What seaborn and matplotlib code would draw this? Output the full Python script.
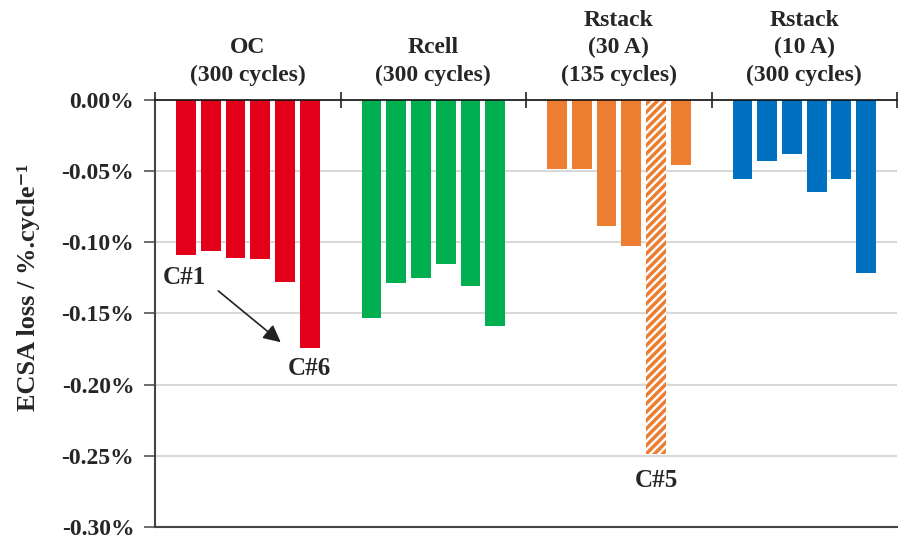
import numpy as np
import pandas as pd
import seaborn as sns
import matplotlib.pyplot as plt

# ECSA loss rate per cell (%/cycle)
groups = ["OC\n(300 cycles)", "Rcell\n(300 cycles)",
          "Rstack\n(30 A)\n(135 cycles)", "Rstack\n(10 A)\n(300 cycles)"]
cells = ["C#1", "C#2", "C#3", "C#4", "C#5", "C#6"]
oc = [-0.109, -0.106, -0.111, -0.112, -0.128, -0.174]
rcell = [-0.153, -0.129, -0.125, -0.115, -0.131, -0.159]
rstack_30a = [-0.049, -0.049, -0.089, -0.103, -0.249, -0.046]
rstack_10a = [-0.056, -0.043, -0.038, -0.065, -0.056, -0.122]
group_colors = ["#E2001A", "#00B050", "#ED7D31", "#0070C0"]

values = [oc, rcell, rstack_30a, rstack_10a]
df = pd.DataFrame({
    "group": np.repeat(groups, len(cells)),
    "cell": cells * len(groups),
    "value": np.concatenate(values),
})

sns.set_style("white")
plt.rcParams["font.family"] = ["Liberation Serif", "DejaVu Serif"]
plt.rcParams["font.weight"] = "bold"
plt.rcParams["hatch.linewidth"] = 2.5

fig, ax = plt.subplots(figsize=(9.07, 5.4), dpi=100)
fig.subplots_adjust(left=0.171, right=0.989, top=0.8154, bottom=0.024)

sns.barplot(data=df, x="group", y="value", hue="cell", order=groups,
            hue_order=cells, width=0.8, gap=0.2, linewidth=0,
            legend=False, ax=ax)

# colour bars by group, hatch the failed C#5 of Rstack 30 A
for h, cont in enumerate(ax.containers):
    for g, bar in enumerate(cont):
        bar.set_facecolor(group_colors[g])
        bar.set_edgecolor(group_colors[g])
        if g == 2 and cells[h] == "C#5":
            bar.set_facecolor("white")
            bar.set_hatch("////")
            bar.set_linewidth(0)

ax.set_ylim(-0.30, 0)
ax.set_xlim(-0.5, 3.375)
ax.set_yticks(np.arange(-0.30, 0.001, 0.05))
ax.yaxis.set_major_formatter(
    plt.FuncFormatter(lambda v, p: "0.00%" if abs(v) < 1e-9 else f"{v:.2f}%"))
ax.tick_params(axis="y", direction="out", length=8, width=1.2,
               color="#555555", labelsize=17, pad=7, left=True)
ax.yaxis.grid(True, color="#d9d9d9", lw=1.5)
ax.set_axisbelow(True)

# category labels on top
ax.xaxis.tick_top()
ax.set_xticks([-0.5, 0.5, 1.5, 2.5, 3.5])
ax.set_xticklabels([])
ax.set_xticks(range(len(groups)), minor=True)
ax.set_xticklabels(groups, minor=True, fontsize=17, fontweight="bold")
ax.tick_params(axis="x", which="major", direction="inout", length=12,
               width=1.2, color="#222222", top=True)
ax.tick_params(axis="x", which="minor", length=0, pad=10, top=True)
for t in ax.get_xticklabels(minor=True):
    t.set_linespacing(1.4)
ax.set_xlabel("")

for side in ["left", "bottom"]:
    ax.spines[side].set_color("#444444")
    ax.spines[side].set_linewidth(1.5)
ax.spines["top"].set_color("#111111")
ax.spines["top"].set_linewidth(1.2)
ax.spines["right"].set_visible(False)

ax.set_ylabel("ECSA loss / %.cycle\u207b\u00b9", fontsize=19,
              fontweight="bold")
ax.yaxis.set_label_coords(-0.155, 0.56)

# annotations
ax.annotate("", xy=(0.189, -0.1715), xytext=(-0.171, -0.133),
            arrowprops=dict(arrowstyle="-|>", color="#222222", lw=1.2,
                            mutation_scale=26))
ax.text(-0.343, -0.1247, "C#1", fontsize=18, fontweight="bold",
        ha="center", va="center")
ax.text(0.33, -0.189, "C#6", fontsize=18, fontweight="bold",
        ha="center", va="center")
ax.text(2.2, -0.2673, "C#5", fontsize=18, fontweight="bold",
        ha="center", va="center")

fig.savefig("out.png", dpi=100)
